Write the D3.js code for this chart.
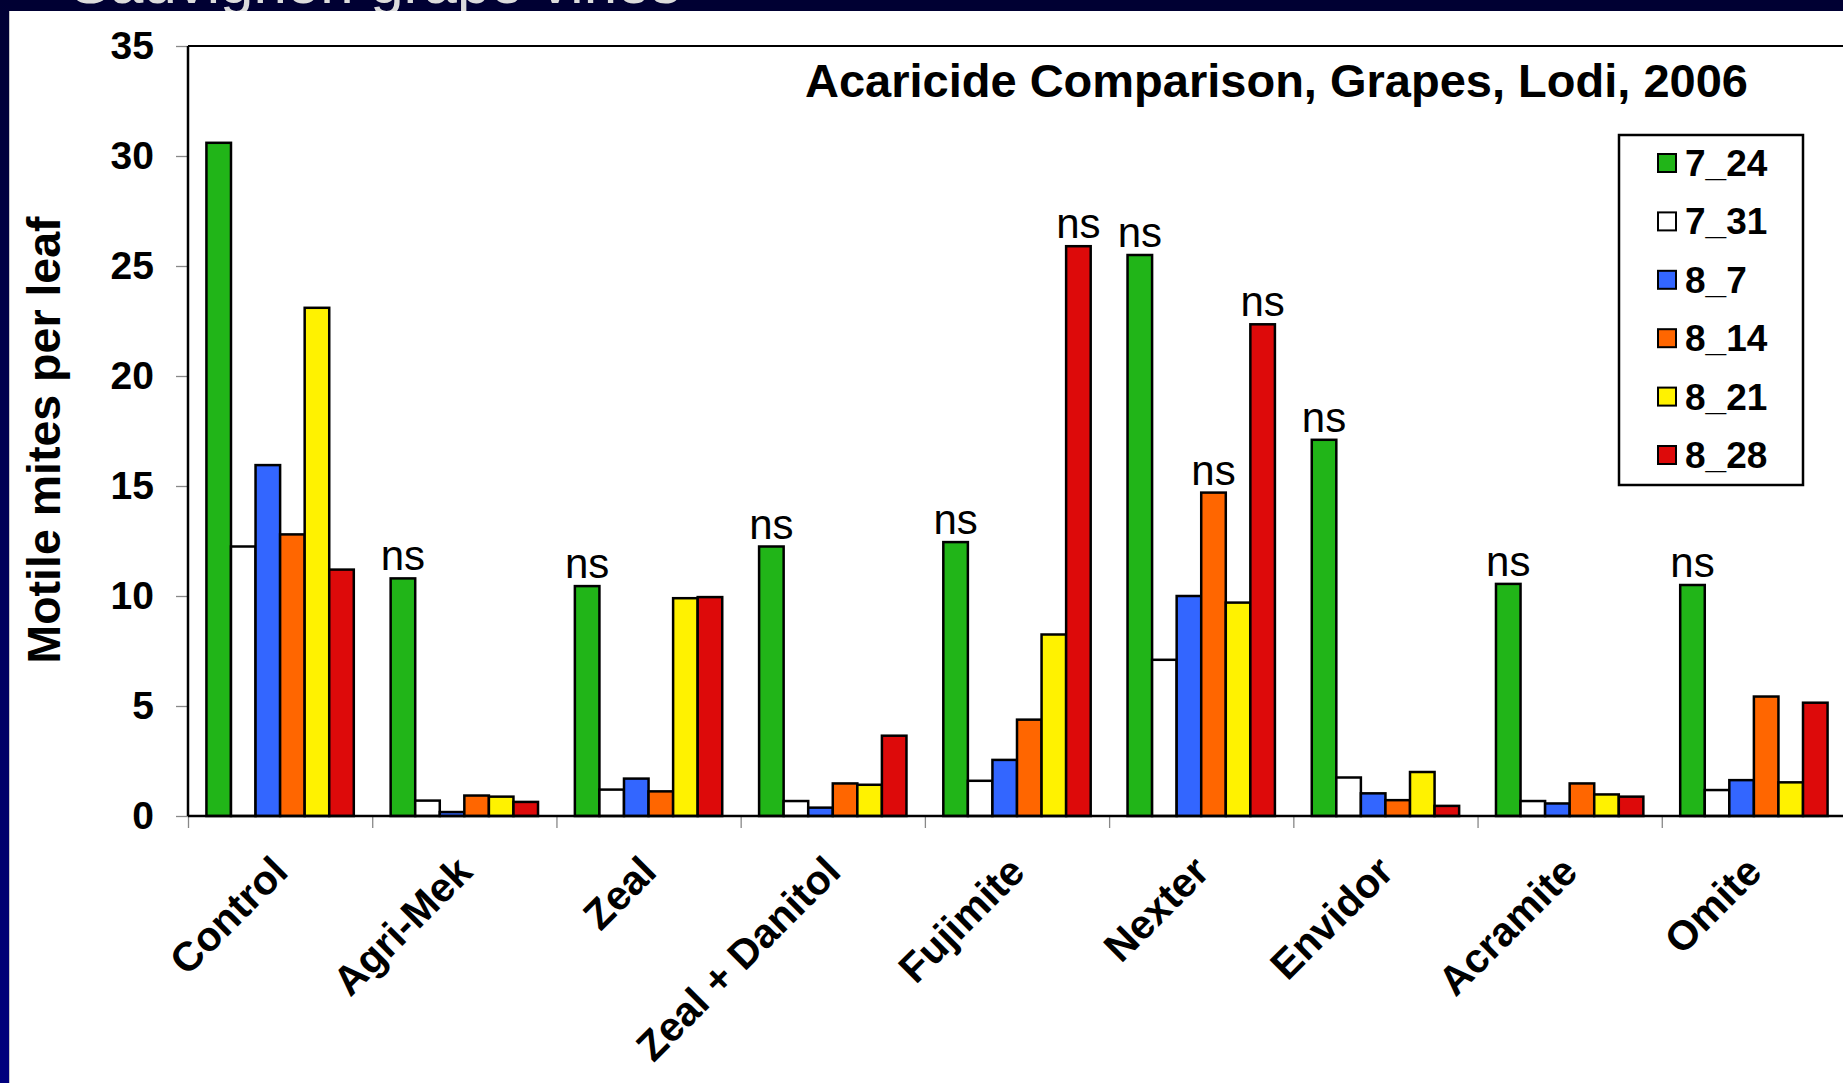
<!DOCTYPE html>
<html lang="en">
<head>
  <meta charset="UTF-8" />
  <title>Acaricide Comparison, Grapes, Lodi, 2006</title>
  <script src="https://d3js.org/d3.v7.min.js"></script>
  <style>
    body {
      margin: 0;
      overflow: hidden;
      background: #fff;
      font-family: "Liberation Sans", Arial, sans-serif;
    }
    .bar {
      stroke: #000;
      stroke-width: 2.5;
    }
    .axis path, .axis line {
      stroke: #888;
      stroke-width: 1.3;
    }
    .axis text {
      font-weight: bold;
      font-size: 39px;
      fill: #000;
      font-family: "Liberation Sans", Arial, sans-serif;
    }
  </style>
</head>
<body>
  <svg id="chart" width="1843" height="1083"></svg>

  <script>
    const width = 1843;
    const height = 1083;

    // data
    const categories = ["Control", "Agri-Mek", "Zeal", "Zeal + Danitol", "Fujimite", "Nexter", "Envidor", "Acramite", "Omite"];
    const seriesNames = ["7_24", "7_31", "8_7", "8_14", "8_21", "8_28"];
    const seriesColors = ["#21b518", "#ffffff", "#3366ff", "#ff6600", "#fff200", "#dd0a0a"];
    const v7_24 = [30.6, 10.8, 10.45, 12.25, 12.45, 25.5, 17.1, 10.55, 10.5];
    const v7_31 = [12.25, 0.7, 1.2, 0.68, 1.6, 7.1, 1.75, 0.68, 1.18];
    const v8_7 = [15.95, 0.18, 1.7, 0.38, 2.55, 10.0, 1.03, 0.57, 1.63];
    const v8_14 = [12.8, 0.93, 1.12, 1.48, 4.38, 14.7, 0.72, 1.48, 5.43];
    const v8_21 = [23.1, 0.88, 9.9, 1.42, 8.25, 9.7, 2.0, 0.98, 1.53];
    const v8_28 = [11.2, 0.64, 9.95, 3.65, 25.9, 22.35, 0.46, 0.88, 5.15];
    const seriesValues = [v7_24, v7_31, v8_7, v8_14, v8_21, v8_28];
    // bars marked "ns" (category, series)
    const nsMarks = [
      ["Agri-Mek", "7_24"], ["Zeal", "7_24"], ["Zeal + Danitol", "7_24"],
      ["Fujimite", "7_24"], ["Fujimite", "8_28"],
      ["Nexter", "7_24"], ["Nexter", "8_14"], ["Nexter", "8_28"],
      ["Envidor", "7_24"], ["Acramite", "7_24"], ["Omite", "7_24"]
    ];
    const yTicks = [0, 5, 10, 15, 20, 25, 30, 35];

    const margin = { top: 46, left: 188, bottom: 816, right: 1846 };

    const svg = d3.select("#chart");

    // slide frame: dark band on top, gradient strip on the left
    const defs = svg.append("defs");
    const grad = defs.append("linearGradient")
      .attr("id", "sideGrad")
      .attr("x1", 0).attr("y1", 0).attr("x2", 0).attr("y2", 1);
    grad.append("stop").attr("offset", "0%").attr("stop-color", "#000033");
    grad.append("stop").attr("offset", "100%").attr("stop-color", "#00007e");

    svg.append("rect").attr("x", 0).attr("y", 0).attr("width", width).attr("height", 11).attr("fill", "#000033");
    svg.append("text")
      .attr("x", 70).attr("y", 3)
      .attr("font-size", 60)
      .attr("fill", "#dcdcdc")
      .text("Sauvignon grape vines");
    svg.append("rect").attr("x", 0).attr("y", 0).attr("width", 9).attr("height", height).attr("fill", "url(#sideGrad)");
    svg.append("rect").attr("x", 9).attr("y", 11).attr("width", width - 9).attr("height", height - 11).attr("fill", "#fff");
    svg.append("line").attr("x1", 9.5).attr("x2", 9.5).attr("y1", 11).attr("y2", height)
      .attr("stroke", "#c8c8c8").attr("stroke-width", 1);

    // scales
    const x0 = d3.scaleBand()
      .domain(categories)
      .range([margin.left, margin.right])
      .paddingInner(0.2)
      .paddingOuter(0.1);

    const x1 = d3.scaleBand()
      .domain(seriesNames)
      .range([0, x0.bandwidth()]);

    const xEdges = d3.scaleLinear()
      .domain([0, categories.length])
      .range([margin.left, margin.right]);

    const y = d3.scaleLinear()
      .domain([0, 35])
      .range([margin.bottom, margin.top]);

    const color = d3.scaleOrdinal().domain(seriesNames).range(seriesColors);

    // y axis
    svg.append("g")
      .attr("class", "axis")
      .attr("transform", `translate(${margin.left},0)`)
      .call(d3.axisLeft(y).tickValues(yTicks).tickSize(12).tickPadding(22))
      .call(g => g.select(".domain").remove());

    // x axis ticks at category edges
    svg.append("g")
      .attr("class", "axis")
      .attr("transform", `translate(0,${margin.bottom})`)
      .call(d3.axisBottom(xEdges).tickValues(d3.range(categories.length + 1)).tickSize(12).tickFormat(""))
      .call(g => g.select(".domain").remove());

    // bars
    const rows = categories.map((c, i) => ({
      category: c,
      values: seriesNames.map((s, j) => ({ series: s, value: seriesValues[j][i] }))
    }));

    const groups = svg.append("g")
      .selectAll("g")
      .data(rows)
      .join("g")
      .attr("transform", d => `translate(${x0(d.category)},0)`);

    groups.selectAll("rect")
      .data(d => d.values)
      .join("rect")
      .attr("class", "bar")
      .attr("x", d => x1(d.series))
      .attr("y", d => y(d.value))
      .attr("width", x1.bandwidth())
      .attr("height", d => y(0) - y(d.value))
      .attr("fill", d => color(d.series));

    // ns labels
    svg.append("g")
      .selectAll("text")
      .data(nsMarks)
      .join("text")
      .attr("x", d => x0(d[0]) + x1(d[1]) + x1.bandwidth() / 2)
      .attr("y", d => y(seriesValues[seriesNames.indexOf(d[1])][categories.indexOf(d[0])]) - 8)
      .attr("text-anchor", "middle")
      .attr("font-size", 42)
      .attr("fill", "#000")
      .text("ns");

    // plot frame lines
    svg.append("line")
      .attr("x1", margin.left).attr("x2", width)
      .attr("y1", margin.top).attr("y2", margin.top)
      .attr("stroke", "#000").attr("stroke-width", 2);
    svg.append("line")
      .attr("x1", margin.left).attr("x2", margin.left)
      .attr("y1", margin.top).attr("y2", margin.bottom)
      .attr("stroke", "#000").attr("stroke-width", 2.5);
    svg.append("line")
      .attr("x1", margin.left).attr("x2", width)
      .attr("y1", margin.bottom).attr("y2", margin.bottom)
      .attr("stroke", "#000").attr("stroke-width", 2.5);

    // category labels, rotated
    svg.append("g")
      .selectAll("text")
      .data(categories)
      .join("text")
      .attr("transform", d => `translate(${x0(d) + x0.bandwidth() / 2 + 10},${margin.bottom + 58}) rotate(-45)`)
      .attr("text-anchor", "end")
      .attr("font-size", 41)
      .attr("font-weight", "bold")
      .attr("fill", "#000")
      .text(d => d);

    // y axis title
    svg.append("text")
      .attr("transform", `translate(60,440) rotate(-90)`)
      .attr("text-anchor", "middle")
      .attr("font-size", 46.5)
      .attr("font-weight", "bold")
      .attr("fill", "#000")
      .text("Motile mites per leaf");

    // chart title
    svg.append("text")
      .attr("x", 805)
      .attr("y", 97)
      .attr("font-size", 47)
      .attr("font-weight", "bold")
      .attr("fill", "#000")
      .text("Acaricide Comparison, Grapes, Lodi, 2006");

    // legend
    const legend = svg.append("g").attr("transform", "translate(1619,135)");
    legend.append("rect")
      .attr("width", 184).attr("height", 350)
      .attr("fill", "#fff").attr("stroke", "#000").attr("stroke-width", 2.5);

    const legendY = d3.scalePoint().domain(seriesNames).range([28, 320]);

    const items = legend.selectAll("g.item")
      .data(seriesNames)
      .join("g")
      .attr("class", "item")
      .attr("transform", d => `translate(0,${legendY(d)})`);

    items.append("rect")
      .attr("x", 39).attr("y", -9)
      .attr("width", 18).attr("height", 18)
      .attr("fill", d => color(d))
      .attr("stroke", "#000").attr("stroke-width", 2);

    items.append("text")
      .attr("x", 66)
      .attr("y", 13)
      .attr("font-size", 37)
      .attr("font-weight", "bold")
      .attr("fill", "#000")
      .text(d => d);
  </script>
</body>
</html>
